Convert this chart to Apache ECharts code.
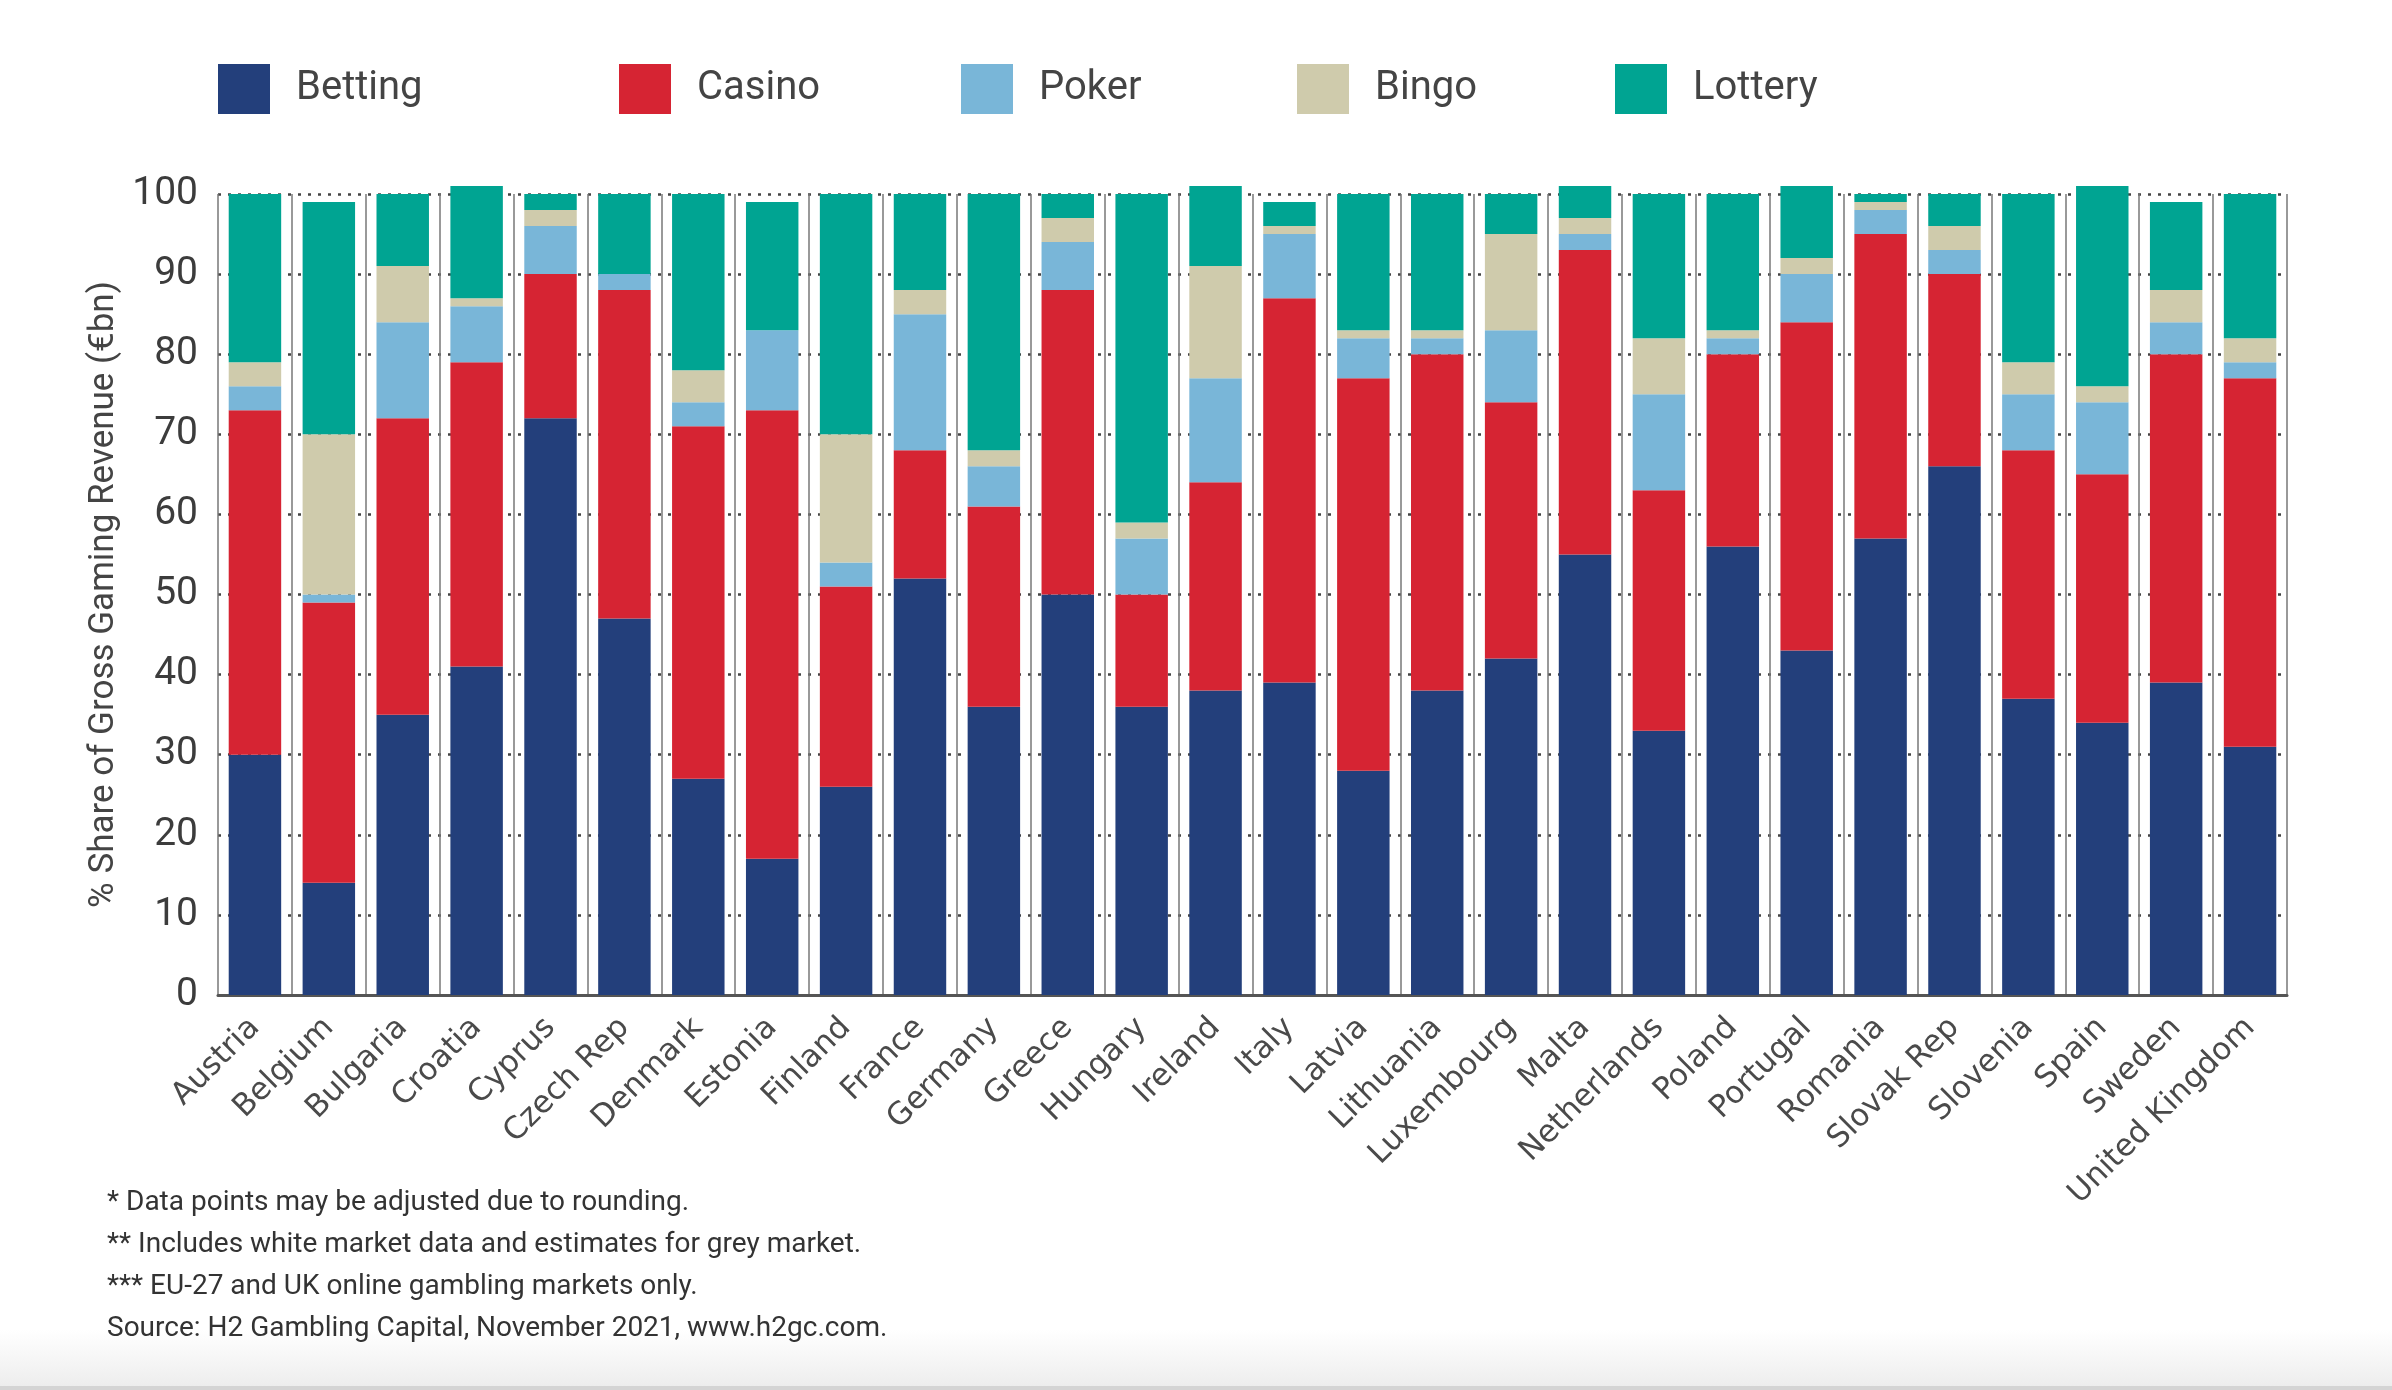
<!DOCTYPE html>
<html>
<head>
<meta charset="utf-8">
<script src="https://cdn.jsdelivr.net/npm/echarts@6/dist/echarts.min.js"></script>
<style>
html,body{margin:0;padding:0;background:#fff;}
#main{width:2392px;height:1390px;}
</style>
</head>
<body>
<div id="main"></div>
<script>
const categories = ["Austria","Belgium","Bulgaria","Croatia","Cyprus","Czech Rep","Denmark","Estonia","Finland","France","Germany","Greece","Hungary","Ireland","Italy","Latvia","Lithuania","Luxembourg","Malta","Netherlands","Poland","Portugal","Romania","Slovak Rep","Slovenia","Spain","Sweden","United Kingdom"];
const betting = [30,14,35,41,72,47,27,17,26,52,36,50,36,38,39,28,38,42,55,33,56,43,57,66,37,34,39,31];
const casino  = [43,35,37,38,18,41,44,56,25,16,25,38,14,26,48,49,42,32,38,30,24,41,38,24,31,31,41,46];
const poker   = [3,1,12,7,6,2,3,10,3,17,5,6,7,13,8,5,2,9,2,12,2,6,3,3,7,9,4,2];
const bingo   = [3,20,7,1,2,0,4,0,16,3,2,3,2,14,1,1,1,12,2,7,1,2,1,3,4,2,4,3];
const lottery = [21,29,9,14,2,10,22,16,30,12,32,3,41,10,3,17,17,5,4,18,17,9,1,4,21,25,11,18];
const seriesNames = ["Betting","Casino","Poker","Bingo","Lottery"];
const yTicks = [0,10,20,30,40,50,60,70,80,90,100];
const footnotes = [
  "* Data points may be adjusted due to rounding.",
  "** Includes white market data and estimates for grey market.",
  "*** EU-27 and UK online gambling markets only.",
  "Source: H2 Gambling Capital, November 2021, www.h2gc.com."
];

const colors = ["#233f7b","#d62433","#79b6d8","#cfcbac","#00a492"];
const seriesData = [betting, casino, poker, bingo, lottery];
const legendLefts = [218, 619, 961, 1297, 1615];

const chart = echarts.init(document.getElementById('main'), null, {renderer:'canvas'});
const FONT = 'Roboto, "Noto Sans", sans-serif';

const option = {
  backgroundColor: '#ffffff',
  animation: false,
  color: colors,
  legend: seriesNames.map((n,i)=>({
    data:[n], left: legendLefts[i], top: 64, padding: 0,
    itemWidth: 52, itemHeight: 50, icon: 'rect',
    textStyle: {fontSize: 40, color: '#444', fontFamily: FONT, padding:[18,0,0,21]}
  })),
  grid: {left: 218, right: 105, top: 194, bottom: 395, containLabel: false},
  xAxis: {
    type: 'category',
    data: categories,
    axisLine: {show: true, lineStyle: {color: '#555', width: 3}},
    axisTick: {show: false},
    splitLine: {show: true, interval: 0, lineStyle: {color: '#777', width: 1.5}},
    axisLabel: {interval: 0, rotate: 45, margin: 28, fontSize: 31, color: '#4a4a4a', fontFamily: '"DejaVu Sans", sans-serif'}
  },
  yAxis: {
    type: 'value', min: yTicks[0], max: yTicks[yTicks.length-1], interval: 10,
    name: '% Share of Gross Gaming Revenue (€bn)',
    nameLocation: 'middle', nameRotate: 90, nameGap: 80,
    nameTextStyle: {fontSize: 35, color: '#444', fontFamily: FONT},
    axisLine: {show: false}, axisTick: {show: false},
    axisLabel: {fontSize: 39, color: '#3c3c3c', margin: 20, fontFamily: FONT},
    splitLine: {show: true, lineStyle: {color: '#444', width: 2.5, type: [3, 7]}}
  },
  series: seriesNames.map((n,i)=>({
    name: n, type: 'bar', stack: 'total', data: seriesData[i],
    barCategoryGap: '29%', clip: false,
    itemStyle: {color: colors[i]}
  })),
  graphic: [
    {type: 'rect', left: 0, top: 1330, shape: {width: 2392, height: 60}, silent: true,
     style: {fill: new echarts.graphic.LinearGradient(0,0,0,1,[{offset:0,color:'#ffffff'},{offset:1,color:'#ececec'}])}},
    {type: 'rect', left: 0, top: 1386, shape: {width: 2392, height: 4}, silent: true, style: {fill: '#d4d4d4'}}
  ].concat(footnotes.map((t,i)=>({
    type: 'text', left: 107, top: 1189 + i*42, silent: true,
    style: {text: t, fontSize: 28, fill: '#333', fontFamily: FONT}
  })))
};
chart.setOption(option);
</script>
</body>
</html>
